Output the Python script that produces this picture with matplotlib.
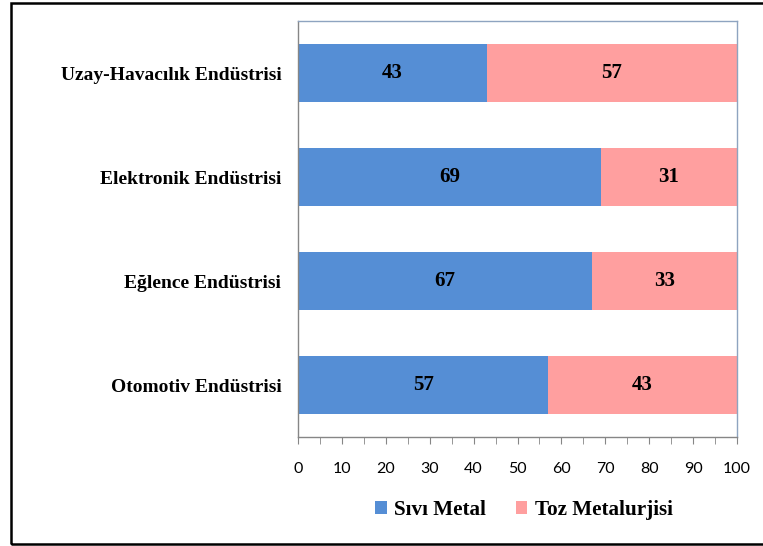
import numpy as np
import matplotlib
matplotlib.use('Agg')
import matplotlib.pyplot as plt
from matplotlib.patches import Rectangle
from matplotlib.ticker import MultipleLocator

categories = ['Otomotiv Endüstrisi', 'Eğlence Endüstrisi', 'Elektronik Endüstrisi', 'Uzay-Havacılık Endüstrisi']
sivi_metal = [57, 67, 69, 43]
toz_metal = [43, 33, 31, 57]
series_names = ['Sıvı Metal', 'Toz Metalurjisi']

blue = '#558ED5'
pink = '#FF9F9F'
serif = 'Liberation Serif'

fig = plt.figure(figsize=(7.63, 5.46), dpi=100)
ax = fig.add_axes([298 / 763, 1 - 437 / 546, 439 / 763, 416 / 546])

y = np.arange(len(categories))
b1 = ax.barh(y, sivi_metal, height=0.56, color=blue, label=series_names[0])
b2 = ax.barh(y, toz_metal, left=sivi_metal, height=0.56, color=pink, label=series_names[1])

for bars in (b1, b2):
    for rect in bars:
        w = rect.get_width()
        ax.text(rect.get_x() + w / 2, rect.get_y() + rect.get_height() / 2, f'{w:.0f}',
                ha='center', va='center', fontsize=15, fontweight='bold', family=serif)

ax.set_xlim(0, 100)
ax.set_ylim(-0.5, len(categories) - 0.5)
ax.set_yticks(y)
ax.set_yticklabels(categories, fontsize=14, fontweight='bold', family=serif)
ax.tick_params(axis='y', length=0, pad=12)

ax.xaxis.set_major_locator(MultipleLocator(10))
ax.xaxis.set_minor_locator(MultipleLocator(5))
ax.tick_params(axis='x', which='both', direction='out', length=5, color='#868686', labelsize=11.5, pad=13)
for lab in ax.get_xticklabels():
    lab.set_family('Lato')

for side in ('left', 'bottom'):
    ax.spines[side].set_color('#868686')
for side in ('top', 'right'):
    ax.spines[side].set_color('#8EA4C0')
for sp in ax.spines.values():
    sp.set_linewidth(1.0)

leg = fig.legend(handles=[b1, b2], labels=series_names, loc='center', bbox_to_anchor=(524 / 763, 1 - 510 / 546),
                 ncol=2, frameon=False, prop={'family': serif, 'weight': 'bold', 'size': 15.2},
                 handlelength=0.55, handleheight=0.55, handletextpad=0.35, columnspacing=1.4)

fig.patches.append(Rectangle((10.5 / 763, 2.5 / 546), 800 / 763, 541 / 546, transform=fig.transFigure,
                             fill=False, edgecolor='black', linewidth=1.8))

fig.savefig('out.png', dpi=100)
